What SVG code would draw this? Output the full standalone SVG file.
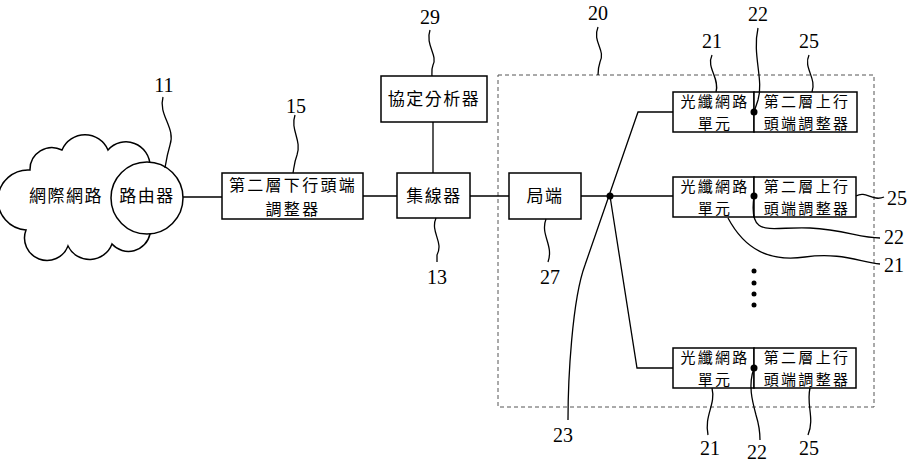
<svg xmlns="http://www.w3.org/2000/svg" width="909" height="463" viewBox="0 0 909 463">
<style>
.b{fill:#fff;stroke:#000;stroke-width:1.5}
.l{fill:none;stroke:#000;stroke-width:1.3}
.t{font-family:"Noto Sans CJK TC","Noto Sans CJK SC",sans-serif;font-size:17px;letter-spacing:1.5px;text-anchor:middle;fill:#000}
.m{font-family:"Noto Sans CJK TC","Noto Sans CJK SC",sans-serif;font-size:16px;letter-spacing:2.3px;text-anchor:middle;fill:#000}
.s{font-family:"Noto Sans CJK TC","Noto Sans CJK SC",sans-serif;font-size:15px;letter-spacing:2.3px;text-anchor:middle;fill:#000}
.n{font-family:"Liberation Serif",serif;font-size:20px;text-anchor:middle;fill:#000}
.d{fill:none;stroke:#555;stroke-width:1;stroke-dasharray:4,3}
</style>
<rect width="909" height="463" fill="#fff"/>
<g id="cloud">
<path class="b" d="M30,170 A22 22 0 0 1 62,150 A25 25 0 0 1 108,150 A24 24 0 0 1 150,166 A22 22 0 0 1 158,200 A20 20 0 0 1 150,234 A22 22 0 0 1 112,244 A24 24 0 0 1 68,246 A22 22 0 0 1 26,230 A30 30 0 0 1 30,170 Z"/>
<text class="t" x="66" y="202">網際網路</text>
</g>
<g id="router">
<circle class="b" cx="147" cy="198" r="36"/>
<text class="t" x="147" y="202">路由器</text>
</g>
<g id="n15">
<rect class="b" x="222" y="173" width="141" height="46"/>
<text class="m" x="293" y="191">第二層下行頭端</text>
<text class="m" x="293" y="214.5">調整器</text>
</g>
<g id="n29">
<rect class="b" x="381" y="76" width="106" height="46"/>
<text class="t" x="434" y="105">協定分析器</text>
</g>
<g id="n13">
<rect class="b" x="397" y="173" width="73" height="45"/>
<text class="t" x="434" y="202">集線器</text>
</g>
<g id="n20">
<rect class="d" x="498" y="75" width="376" height="332"/>
</g>
<g id="n27">
<rect class="b" x="509" y="173" width="72" height="46"/>
<text class="t" x="545" y="202">局端</text>
</g>
<g id="onu1">
<rect class="b" x="673" y="92" width="81" height="40"/>
<rect class="b" x="754" y="92" width="103" height="40"/>
<text class="s" x="715" y="107">光纖網路</text>
<text class="s" x="715" y="129">單元</text>
<text class="s" x="807" y="107">第二層上行</text>
<text class="s" x="807" y="129">頭端調整器</text>
</g>
<g id="onu2">
<rect class="b" x="673" y="177" width="81" height="40"/>
<rect class="b" x="754" y="177" width="102" height="40"/>
<text class="s" x="715" y="192">光纖網路</text>
<text class="s" x="715" y="214">單元</text>
<text class="s" x="807" y="192">第二層上行</text>
<text class="s" x="807" y="214">頭端調整器</text>
</g>
<g id="onu3">
<rect class="b" x="673" y="348" width="81" height="40"/>
<rect class="b" x="754" y="348" width="102" height="40"/>
<text class="s" x="715" y="363">光纖網路</text>
<text class="s" x="715" y="385">單元</text>
<text class="s" x="807" y="363">第二層上行</text>
<text class="s" x="807" y="385">頭端調整器</text>
</g>
<g id="connectors">
<path class="l" d="M183,197 H222 M363,196 H397 M433,122 V173 M470,196 H509 M581,196 H673"/>
<path class="l" d="M673,112 H638 L585,265 C572,300 568,380 568,420"/>
<path class="l" d="M610,196 L637,368 H673"/>
<circle cx="610" cy="196" r="3.5"/>
<circle cx="754" cy="112" r="3.5"/>
<circle cx="754" cy="196" r="3.5"/>
<circle cx="754" cy="368" r="3.5"/>
<circle cx="754" cy="271" r="2.5"/>
<circle cx="754" cy="283" r="2.5"/>
<circle cx="754" cy="294" r="2.5"/>
<circle cx="754" cy="305" r="2.5"/>
</g>
<g id="leaders">
<path class="l" d="M163,97 C158,115 176,128 170,145 C167,155 166,162 165,168"/>
<path class="l" d="M295,115 C290,130 302,140 297,155 C294,163 294,168 293,173"/>
<path class="l" d="M430,30 C425,45 438,55 433,65 C431,70 432,74 432,76"/>
<path class="l" d="M598,27 C592,42 606,50 600,62 C598,68 598,72 598,75"/>
<path class="l" d="M436,218 C430,232 444,242 437,255 L437,262"/>
<path class="l" d="M546,219 C540,235 554,245 548,262"/>
<path class="l" d="M712,55 C706,68 720,78 716,92"/>
<path class="l" d="M758,28 C752,55 764,80 758,100 L754,112"/>
<path class="l" d="M809,55 C803,68 817,78 812,92"/>
<path class="l" d="M856,196 C866,190 872,202 884,197"/>
<path class="l" d="M754,196 C748,240 770,226 810,228 C845,230 860,238 880,238"/>
<path class="l" d="M728,218 C745,250 770,262 805,257 C840,252 860,262 880,264"/>
<path class="l" d="M712,388 C716,405 704,415 708,435"/>
<path class="l" d="M754,368 C748,385 752,400 756,415 C760,428 760,435 760,440"/>
<path class="l" d="M810,388 C806,405 815,418 808,435"/>
</g>
<g id="labels">
<text class="n" x="164" y="92">11</text>
<text class="n" x="296" y="113">15</text>
<text class="n" x="430" y="24">29</text>
<text class="n" x="598" y="20">20</text>
<text class="n" x="437" y="284">13</text>
<text class="n" x="550" y="284">27</text>
<text class="n" x="712" y="48">21</text>
<text class="n" x="758" y="21">22</text>
<text class="n" x="809" y="48">25</text>
<text class="n" x="897" y="205">25</text>
<text class="n" x="894" y="244">22</text>
<text class="n" x="894" y="272">21</text>
<text class="n" x="563" y="442">23</text>
<text class="n" x="710" y="455">21</text>
<text class="n" x="757" y="459">22</text>
<text class="n" x="809" y="455">25</text>
</g>
</svg>
